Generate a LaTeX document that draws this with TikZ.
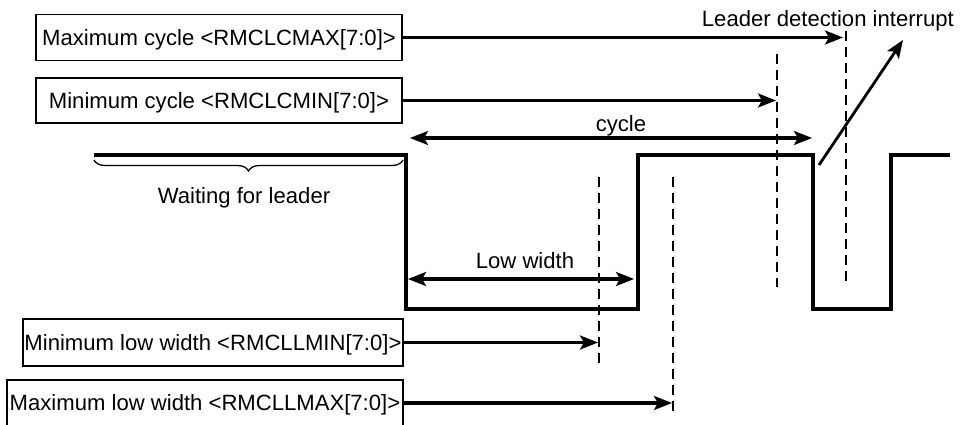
\documentclass[tikz,border=0pt]{standalone}
\usepackage{fontspec}
\setmainfont{Liberation Sans}
\usetikzlibrary{arrows.meta,decorations.pathreplacing}
\begin{document}
\begin{tikzpicture}[x=1pt,y=-1pt,
  txt/.style={font=\fontsize{22.1}{26}\selectfont},
  regbox/.style={txt,draw,line width=1.5pt,inner sep=0pt,text height=15.8pt,text depth=0pt},
  lbl/.style={txt,inner sep=0pt},
  sig/.style={line width=3.6pt,line join=miter},
  tip/.tip={Stealth[length=18pt,width=14pt,inset=4pt]},
  arr/.style={line width=3.2pt,-tip},
  darr/.style={line width=3.2pt,tip-tip},
  markline/.style={line width=2.6pt,dash pattern=on 10pt off 6pt}]
\useasboundingbox (0,0) rectangle (961,425);

% register boxes
\node[regbox,minimum width=366pt,minimum height=46pt] (cmax) at (219,37.5) {Maximum cycle <RMCLCMAX[7:0]>};
\node[regbox,minimum width=366pt,minimum height=45pt] (cmin) at (219,100.5) {Minimum cycle <RMCLCMIN[7:0]>};
\node[regbox,minimum width=380pt,minimum height=47pt] (lmin) at (213,342.5) {Minimum low width <RMCLLMIN[7:0]>};
\node[regbox,minimum width=396pt,minimum height=46pt] (lmax) at (205,403) {Maximum low width <RMCLLMAX[7:0]>};

% dashed marker lines
\coordinate (d1t) at (599,177); \coordinate (d1b) at (599,367);
\coordinate (d2t) at (673,177); \coordinate (d2b) at (673,417);
\coordinate (d3t) at (777,54);  \coordinate (d3b) at (777,287);
\coordinate (d4t) at (846,31);  \coordinate (d4b) at (846,285);
\draw[markline] (d1t) -- (d1b);
\draw[markline] (d2t) -- (d2b);
\draw[markline] (d3t) -- (d3b);
\draw[markline] (d4t) -- (d4b);

% waveform
\coordinate (w0) at (94,155);
\coordinate (w1) at (406,155);
\coordinate (w2) at (406,309);
\coordinate (w3) at (638,309);
\coordinate (w4) at (638,155);
\coordinate (w5) at (813,155);
\coordinate (w6) at (813,309);
\coordinate (w7) at (891,309);
\coordinate (w8) at (891,155);
\coordinate (w9) at (950,155);
\draw[sig] (w0) -- (w1) -- (w2) -- (w3) -- (w4) -- (w5) -- (w6) -- (w7) -- (w8) -- (w9);

% register arrows
\draw[arr] (cmax.east) -- ([xshift=-3pt]d4t |- cmax.east);
\draw[arr] (cmin.east) -- ([xshift=-1pt]d3t |- cmin.east);
\draw[arr] (lmin.east) -- ([xshift=-1pt]d1t |- lmin.east);
\draw[arr] (lmax.east) -- ([xshift=-1pt]d2t |- lmax.east);

% cycle
\coordinate (cyL) at (410,138);
\coordinate (cyR) at (812,138);
\draw[darr] (cyL) -- (cyR);
\node[lbl,anchor=base] (cyt) at (621,131.5) {cycle};

% low width
\coordinate (lwL) at (408,279);
\coordinate (lwR) at (634,279);
\draw[darr] (lwL) -- (lwR);
\node[lbl,anchor=base] (lwt) at (525,268) {Low width};

% waiting for leader
\coordinate (bL) at (94,160);
\coordinate (bR) at (403,160);
\draw[line width=1.3pt,decorate,decoration={brace,mirror,amplitude=11pt}] (bL) -- (bR);
\node[lbl,anchor=base] (wait) at (244,203) {Waiting for leader};

% leader detection interrupt
\node[lbl,anchor=base east] (ldi) at (954,27) {Leader detection interrupt};
\coordinate (iS) at (819,165);
\coordinate (iE) at (903,40);
\draw[line width=2.8pt,-tip] (iS) -- (iE);
\end{tikzpicture}
\end{document}
